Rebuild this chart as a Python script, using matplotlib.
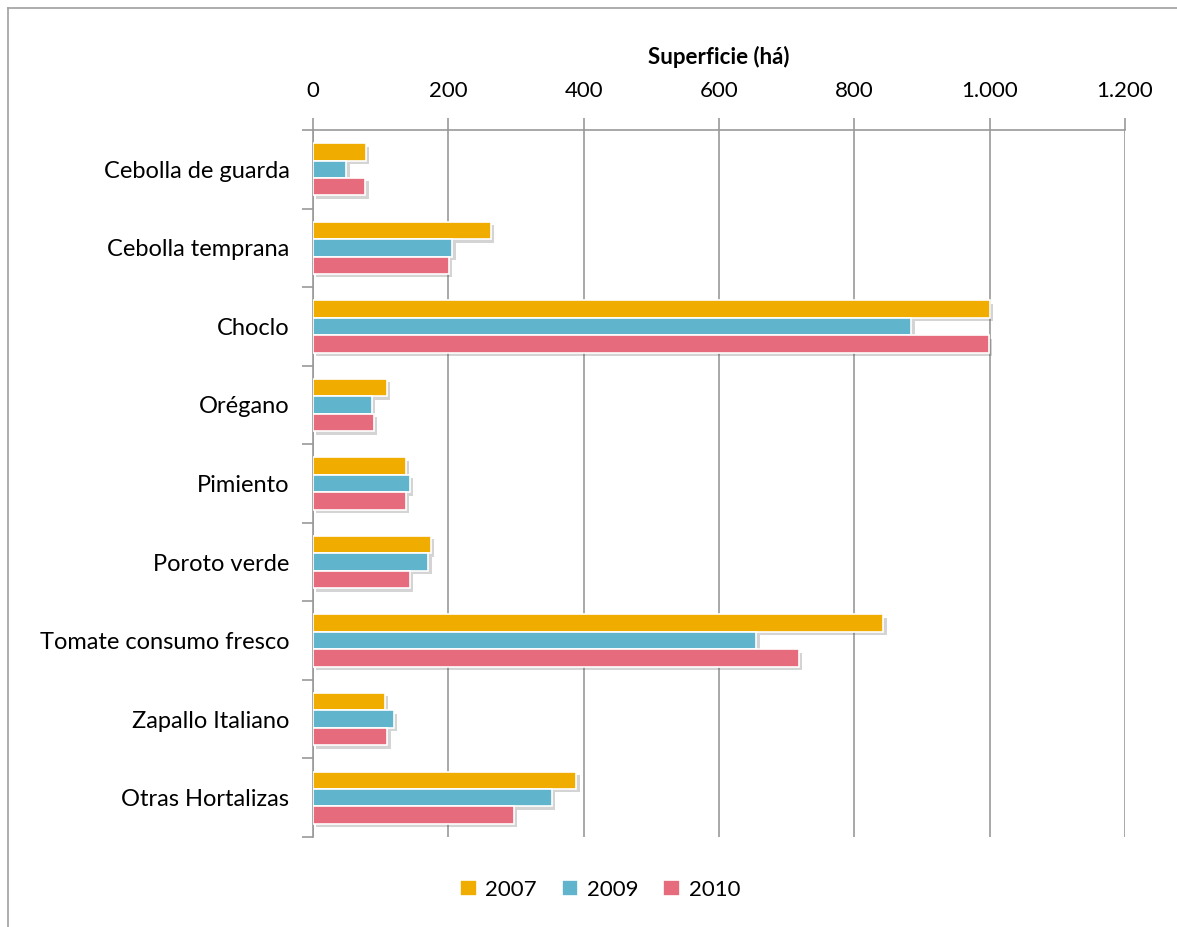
import numpy as np
import matplotlib.pyplot as plt
import matplotlib.patheffects as pe
from matplotlib.ticker import FuncFormatter, FixedLocator
from matplotlib.lines import Line2D

categorias = ['Cebolla de guarda', 'Cebolla temprana', 'Choclo', 'Orégano',
              'Pimiento', 'Poroto verde', 'Tomate consumo fresco',
              'Zapallo Italiano', 'Otras Hortalizas']
v2007 = [78, 263, 1000, 109, 137, 174, 843, 106, 389]
v2009 = [49, 206, 884, 87, 143, 170, 655, 119, 353]
v2010 = [77, 201, 999, 90, 137, 143, 718, 110, 297]
series = ['2007', '2009', '2010']
colores = ['#F0AD00', '#60B5CC', '#E66C7D']

plt.rcParams['font.family'] = ['Lato', 'DejaVu Sans']

fig = plt.figure(figsize=(11.77, 9.27), dpi=100)
ax = fig.add_axes([313 / 1177, 1 - 837 / 927, 812 / 1177, 707 / 927])

# marco exterior (solo bordes izquierdo y superior visibles)
x0, y0 = 7.5 / 1177, 1 - 7.5 / 927
fig.add_artist(Line2D([x0, x0], [0, y0], transform=fig.transFigure,
                      color='#A0A0A0', linewidth=1.2))
fig.add_artist(Line2D([x0, 1], [y0, y0], transform=fig.transFigure,
                      color='#A0A0A0', linewidth=1.2))

y = np.arange(len(categorias))
h = 0.222
sombra = [pe.SimplePatchShadow(offset=(2.5, -2.5), shadow_rgbFace='#555555', alpha=0.25),
          pe.Normal()]
for k, (vals, lab, col) in enumerate(zip([v2007, v2009, v2010], series, colores)):
    bars = ax.barh(y + (k - 1) * h, vals, height=h, color=col, label=lab,
                   edgecolor='white', linewidth=1.2, zorder=3)
    for b in bars:
        b.set_path_effects(sombra)

ax.set_ylim(len(categorias) - 0.5, -0.5)
ax.set_xlim(0, 1200)
ax.set_yticks(y)
ax.set_yticklabels(categorias, fontsize=17)
ax.yaxis.set_minor_locator(FixedLocator(np.arange(-0.5, len(categorias), 1)))
ax.tick_params(axis='y', which='major', length=0, pad=17)
ax.tick_params(axis='y', which='minor', length=8, color='#999999', width=1.2)

ax.xaxis.tick_top()
ax.xaxis.set_label_position('top')
ax.set_xticks(np.arange(0, 1201, 200))
ax.xaxis.set_major_formatter(FuncFormatter(lambda v, p: f'{int(v):,}'.replace(',', '.')))
ax.tick_params(axis='x', length=9, color='#999999', width=1.2, labelsize=16, pad=12)
ax.set_xlabel('Superficie (há)', fontsize=16, fontweight='bold', labelpad=12)

ax.grid(axis='x', color='#999999', linewidth=1.2, zorder=0)
ax.set_axisbelow(True)
for s in ['right', 'bottom']:
    ax.spines[s].set_visible(False)
for s in ['top', 'left']:
    ax.spines[s].set_color('#999999')
    ax.spines[s].set_linewidth(1.2)

leg = fig.legend(loc='center', bbox_to_anchor=(600 / 1177, 1 - 890 / 927), ncol=3,
                 frameon=False, fontsize=16, handlelength=0.75, handleheight=0.75,
                 handletextpad=0.4, columnspacing=1.1)
for hnd in leg.legend_handles:
    hnd.set_path_effects([])

fig.savefig('out.png', dpi=100)
